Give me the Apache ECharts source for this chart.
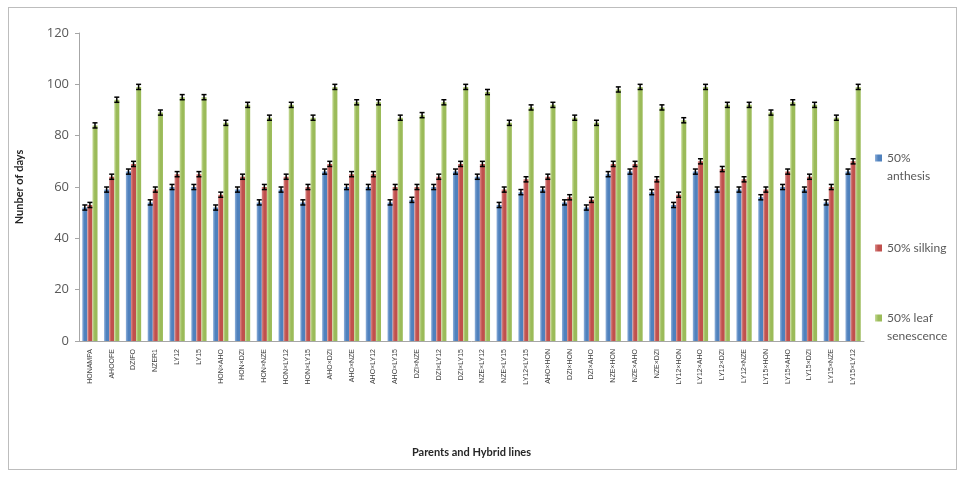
<!DOCTYPE html>
<html>
<head>
<meta charset="utf-8">
<script src="https://cdn.jsdelivr.net/npm/echarts@6/dist/echarts.min.js"></script>
<style>
html,body{margin:0;padding:0;background:#fff;}
#frame{position:absolute;left:8px;top:7px;width:949px;height:463px;border:1px solid #bdbdbd;box-sizing:border-box;}
#c{position:absolute;left:0;top:0;width:965px;height:477px;}
</style>
</head>
<body>
<div id="frame"></div>
<div id="c"></div>
<script>
var categories = ["HONAMPA","AHOOFE","DZIFO","NZER1","LY12","LY15","HON×AHO","HON×DZI","HON×NZE","HON×LY12","HON×LY15","AHO×DZI","AHO×NZE","AHO×LY12","AHO×LY15","DZI×NZE","DZI×LY12","DZI×LY15","NZE×LY12","NZE×LY15","LY12×LY15","AHO×HON","DZI×HON","DZI×AHO","NZE×HON","NZE×AHO","NZE×DZI","LY12×HON","LY12×AHO","LY12×DZI","LY12×NZE","LY15×HON","LY15×AHO","LY15×DZI","LY15×NZE","LY15×LY12"];
var anthesis = [52,59,66,54,60,60,52,59,54,59,54,66,60,60,54,55,60,66,64,53,58,59,54,52,65,66,58,53,66,59,59,56,60,59,54,66];
var silking = [53,64,69,59,65,65,57,64,60,64,60,69,65,65,60,60,64,69,69,59,63,64,56,55,69,69,63,57,70,67,63,59,66,64,60,70];
var senescence = [84,94,99,89,95,95,85,92,87,92,87,99,93,93,87,88,93,99,97,85,91,92,87,85,98,99,91,86,99,92,92,89,93,92,87,99];
var errAnthesis = [1,1,1,1,1,1,1,1,1,1,1,1,1,1,1,1,1,1,1,1,1,1,1,1,1,1,1,1,1,1,1,1,1,1,1,1];
var errSilking = [1,1,1,1,1,1,1,1,1,1,1,1,1,1,1,1,1,1,1,1,1,1,1,1,1,1,1,1,1,1,1,1,1,1,1,1];
var errSenescence = [1,1,1,1,1,1,1,1,1,1,1,1,1,1,1,1,1,1,1,1,1,1,1,1,1,1,1,1,1,1,1,1,1,1,1,1];
var yTicks = [0,20,40,60,80,100,120];

var names = ["50% anthesis","50% silking","50% leaf senescence"];
var legendLabels = [" \n50%\nanthesis","50% silking"," \n50% leaf\nsenescence"];
var colors = ["#4F81BD","#C0504D","#9BBB59"];
var lights = ["#8FB0DA","#DA8C8A","#C6DB98"];
var catGap = 0.30;

function grad(i){
  return new echarts.graphic.LinearGradient(0,0,1,0,[
    {offset:0,color:lights[i]},{offset:0.45,color:colors[i]},{offset:1,color:colors[i]}
  ]);
}
function errSeries(idx, vals, errs){
  return {
    type:'custom', name:names[idx]+' err', z:5, silent:true,
    data: vals.map(function(v,i){return [i,v,errs[i]];}),
    renderItem:function(params, api){
      var ci = api.value(0), v = api.value(1), e = api.value(2);
      var bandW = api.size([1,0])[0];
      var bw = bandW*(1-catGap)/3;
      var c = api.coord([ci, v]);
      var x = c[0] + (idx-1)*bw;
      var top = api.coord([ci, v+e])[1];
      var bot = api.coord([ci, v-e])[1];
      var hw = 2.5;
      var st = {stroke:'#000', lineWidth:1.5};
      return {type:'group', children:[
        {type:'line', shape:{x1:x,y1:top,x2:x,y2:bot}, style:st},
        {type:'line', shape:{x1:x-hw,y1:top,x2:x+hw,y2:top}, style:st},
        {type:'line', shape:{x1:x-hw,y1:bot,x2:x+hw,y2:bot}, style:st}
      ]};
    }
  };
}

var chart = echarts.init(document.getElementById('c'));
function legendFor(i, top){
  return {orient:'vertical', left:875, top:top, padding:0, itemWidth:7, itemHeight:7, icon:'rect', selectedMode:false,
    data:[names[i]], formatter:function(){return legendLabels[i];},
    textStyle:{fontFamily:'Lato, "Open Sans", sans-serif', fontSize:12, color:'#595959', lineHeight:18}};
}
chart.setOption({
  animation:false,
  grid:{left:79, right:101, top:33, bottom:136},
  legend:[ legendFor(0, 131), legendFor(1, 239), legendFor(2, 291) ],
  xAxis:{
    type:'category', data:categories,
    name:'Parents and Hybrid lines', nameLocation:'middle', nameGap:106,
    nameTextStyle:{fontFamily:'Lato, "Open Sans", sans-serif', fontWeight:'bold', fontSize:11, color:'#262626'},
    axisLine:{lineStyle:{color:'#a6a6a6'}},
    axisTick:{show:false},
    axisLabel:{rotate:90, interval:0, fontSize:7, color:'#404040', margin:8, fontFamily:'"Liberation Sans", Arial, sans-serif'}
  },
  yAxis:{
    type:'value', min:0, max:120, interval:20,
    name:'Nunber of days', nameLocation:'middle', nameGap:54, nameRotate:90,
    nameTextStyle:{fontFamily:'Lato, "Open Sans", sans-serif', fontWeight:'bold', fontSize:11, color:'#262626'},
    axisLine:{show:true, lineStyle:{color:'#a6a6a6'}},
    axisTick:{show:true, length:4, lineStyle:{color:'#a6a6a6'}},
    splitLine:{show:false},
    axisLabel:{fontSize:13, color:'#595959', margin:10, fontFamily:'"Open Sans", Lato, sans-serif',
      formatter:function(v){return yTicks.indexOf(v)>=0 ? String(v) : '';}}
  },
  series:[
    {type:'bar', name:names[0], data:anthesis, barGap:'0%', barCategoryGap:(catGap*100)+'%', itemStyle:{color:grad(0)}},
    {type:'bar', name:names[1], data:silking, barGap:'0%', barCategoryGap:(catGap*100)+'%', itemStyle:{color:grad(1)}},
    {type:'bar', name:names[2], data:senescence, barGap:'0%', barCategoryGap:(catGap*100)+'%', itemStyle:{color:grad(2)}},
    errSeries(0, anthesis, errAnthesis),
    errSeries(1, silking, errSilking),
    errSeries(2, senescence, errSenescence)
  ]
});
</script>
</body>
</html>
